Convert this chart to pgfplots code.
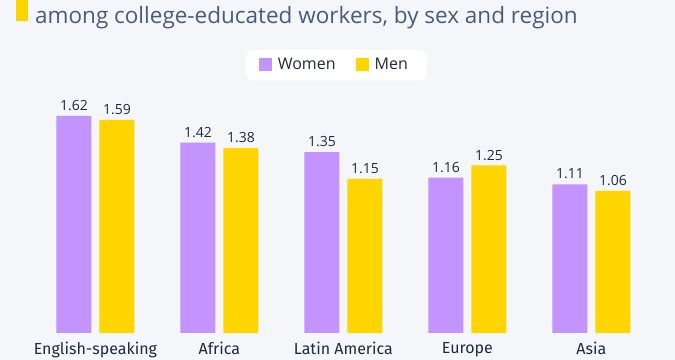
\documentclass[border=0pt]{standalone}
\usepackage{pgfplots}
\pgfplotsset{compat=1.18}
\usepackage{fontspec}
\setmainfont{Open Sans}
\newfontfamily\labfont{Fira Sans}
\definecolor{bg}{HTML}{F4F6FA}
\definecolor{wom}{HTML}{C393FE}
\definecolor{men}{HTML}{FFD500}
\definecolor{ttl}{HTML}{4A5B7A}
\definecolor{txt}{HTML}{1F2B3B}
\pgfplotstableread{
x women men
0 1.62 1.59
1 1.42 1.38
2 1.35 1.15
3 1.16 1.25
4 1.11 1.06
}\datatable
\begin{document}
\begin{tikzpicture}
\useasboundingbox (0,0) rectangle (675bp,360bp);
\fill[bg] (0,0) rectangle (675bp,360bp);
\fill[men] (16bp,339bp) rectangle (28bp,360bp);
\node[anchor=west, inner sep=0, text=ttl, font=\fontsize{22.5bp}{26bp}\selectfont] at (35bp,342bp) {among college-educated workers, by sex and region};
\begin{axis}[
  at={(21bp,27bp)}, anchor=south west,
  scale only axis, width=644.8bp, height=268bp,
  xmin=-0.6, xmax=4.6, ymin=0, ymax=2,
  axis line style={draw=none},
  major tick length=0,
  ytick=\empty,
  xtick=data,
  xticklabels={English-speaking,Africa,Latin America,Europe,Asia},
  xticklabel style={font=\labfont\fontsize{16bp}{18bp}\selectfont, text=txt, inner sep=0, yshift=-9bp},
  ybar, bar width=35bp,
  nodes near coords,
  nodes near coords style={font=\fontsize{14bp}{16bp}\selectfont, text=txt, inner sep=0, anchor=south, yshift=5bp, /pgf/number format/fixed, /pgf/number format/precision=2, /pgf/number format/fixed zerofill},
  /pgf/number format/assume math mode=true,
  legend columns=2,
  legend style={at={(0.489,1.0)}, anchor=center, fill=white, draw=none, rounded corners=8bp,
    font=\fontsize{16bp}{18bp}\selectfont, text=txt, inner xsep=13bp, inner ysep=7bp,
    /tikz/every even column/.append style={column sep=14bp},
    /tikz/every node/.append style={inner xsep=6bp}},
  legend image code/.code={\fill[#1, draw=none, sharp corners] (0bp,-6.5bp) rectangle (13bp,6.5bp);},
]
\addplot[fill=wom, draw=none, bar shift=-21.5bp] table[x=x, y=women] {\datatable};
\addplot[fill=men, draw=none, bar shift=21.5bp] table[x=x, y=men] {\datatable};
\legend{Women,Men}
\end{axis}
\end{tikzpicture}
\end{document}
